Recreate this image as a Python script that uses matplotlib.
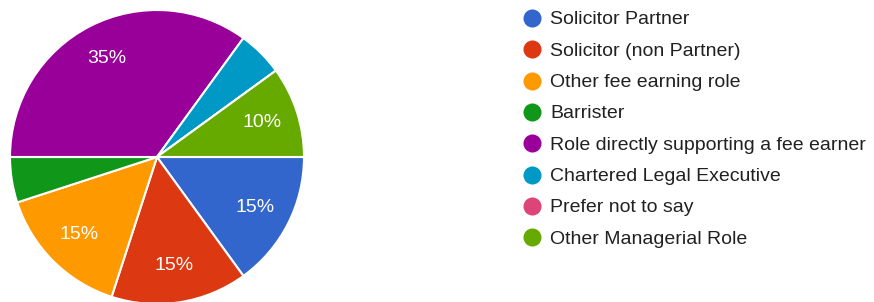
import matplotlib.pyplot as plt

# data (percent of respondents)
labels = ["Solicitor Partner", "Solicitor (non Partner)", "Other fee earning role",
          "Barrister", "Role directly supporting a fee earner",
          "Chartered Legal Executive", "Prefer not to say", "Other Managerial Role"]
shares = [15, 15, 15, 5, 35, 5, 0, 10]
colors = ["#3366cc", "#dc3912", "#ff9900", "#109618",
          "#990099", "#0099c6", "#dd4477", "#66aa00"]

plt.rcParams['font.family'] = ['Liberation Sans', 'DejaVu Sans']

W, H = 874, 302
fig = plt.figure(figsize=(W / 100, H / 100), dpi=100)

# pie: centre (157,157) px, radius 147 px
cx, cy, r = 157, 157, 147
ax = fig.add_axes([(cx - r) / W, (H - cy - r) / H, 2 * r / W, 2 * r / H])
wedges, texts, autotexts = ax.pie(
    shares, colors=colors, startangle=0, counterclock=False,
    autopct=lambda p: f'{p:.0f}%' if p >= 10 else '',
    pctdistance=0.75,
    wedgeprops=dict(edgecolor='white', linewidth=1.5),
    textprops=dict(color='white', fontsize=14))
ax.set_xlim(-1, 1)
ax.set_ylim(-1, 1)
ax.set_aspect('equal')

# legend drawn by hand
lax = fig.add_axes([0, 0, 1, 1])
lax.set_xlim(0, W)
lax.set_ylim(H, 0)
lax.axis('off')
y0, dy = 18, 31.3
for i, (lab, c) in enumerate(zip(labels, colors)):
    y = y0 + i * dy
    lax.plot(532, y, 'o', color=c, markersize=13, markeredgewidth=0)
    lax.text(550, y, lab, fontsize=14, color='#212121', va='center_baseline', ha='left')

fig.savefig('out.png', dpi=100)
